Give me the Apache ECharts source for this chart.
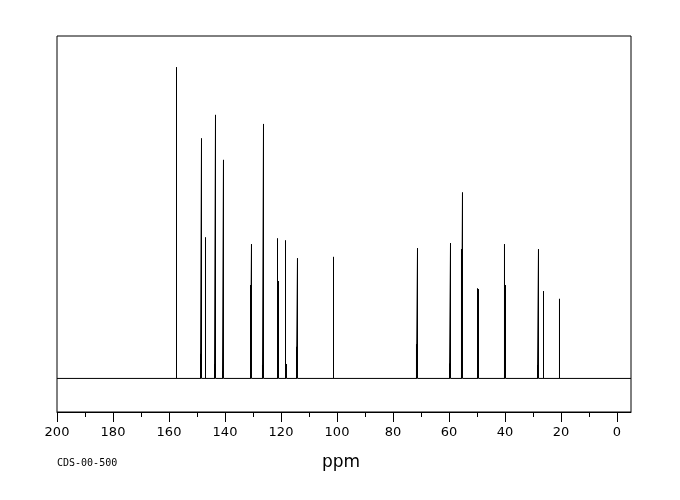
<!DOCTYPE html>
<html>
<head>
<meta charset="utf-8">
<script src="https://cdn.jsdelivr.net/npm/echarts@6/dist/echarts.min.js"></script>
<style>html,body{margin:0;padding:0;background:#fff}#c{width:680px;height:500px}</style>
</head>
<body>
<div id="c"></div>
<script>
// Peak positions (ppm) and relative intensities
const peakPpm = [157.32, 148.75, 148.39, 146.96, 143.75, 143.39, 140.89, 140.54,
  130.89, 130.54, 126.61, 126.25, 121.25, 120.89, 118.39, 118.04, 114.46, 114.11,
  101.25, 71.61, 71.25, 59.82, 59.46, 55.54, 55.18, 49.82, 49.46, 40.18, 39.82,
  28.39, 28.04, 26.25, 20.54];
const peakHeight = [92.7, 7.3, 71.5, 42.0, 4.3, 78.5, 2.2, 65.1,
  27.8, 40.0, 4.0, 75.8, 41.7, 29.0, 41.1, 4.3, 9.4, 35.8,
  36.2, 10.2, 38.8, 4.4, 40.3, 38.5, 55.4, 26.8, 26.6, 40.0, 27.8,
  4.0, 38.5, 26.0, 23.7];
const majorTicks = [0, 20, 40, 60, 80, 100, 120, 140, 160, 180, 200];
const minorTicks = [10, 30, 50, 70, 90, 110, 130, 150, 170, 190];
const xMin = -5, xMax = 200;

const spectrum = [[xMax, 0]];
peakPpm.forEach((p, i) => {
  spectrum.push([p, 0], [p, peakHeight[i]], [p, 0]);
});
spectrum.push([xMin, 0]);

const chart = echarts.init(document.getElementById('c'), null, {renderer: 'canvas'});
chart.setOption({
  backgroundColor: '#ffffff',
  animation: false,
  title: {
    text: 'CDS-00-500',
    left: 57, top: 458, padding: 0,
    textStyle: {fontFamily: 'DejaVu Sans Mono', fontSize: 10, fontWeight: 'normal', color: '#000'}
  },
  grid: {
    left: 57, top: 36, width: 574, height: 376,
    show: true, borderColor: '#000', borderWidth: 1, backgroundColor: 'transparent'
  },
  xAxis: [{
    type: 'value', min: xMin, max: xMax, inverse: true, position: 'bottom',
    name: 'ppm', nameLocation: 'middle', nameGap: 42,
    nameTextStyle: {fontFamily: 'DejaVu Sans', fontSize: 17, color: '#000', padding: [0, 6, 0, 0]},
    axisLine: {show: true, onZero: false, lineStyle: {color: '#000', width: 1}},
    axisTick: {show: true, length: 10, customValues: majorTicks, lineStyle: {color: '#000'}},
    axisLabel: {show: true, customValues: majorTicks, margin: 14,
      fontFamily: 'DejaVu Sans', fontSize: 13, color: '#000'},
    splitLine: {show: false}
  }, {
    type: 'value', min: xMin, max: xMax, inverse: true, position: 'bottom', offset: 0,
    axisLine: {show: false, onZero: false},
    axisTick: {show: true, length: 5, customValues: minorTicks, lineStyle: {color: '#000'}},
    axisLabel: {show: false},
    splitLine: {show: false}
  }],
  yAxis: {
    type: 'value', min: -10, max: 102, show: false,
    axisLine: {show: false}, splitLine: {show: false}
  },
  series: [{
    type: 'line',
    xAxisIndex: 0,
    data: spectrum,
    showSymbol: false,
    symbol: 'none',
    clip: true,
    lineStyle: {color: '#000', width: 1, join: 'bevel'},
    silent: true
  }]
});
</script>
</body>
</html>
